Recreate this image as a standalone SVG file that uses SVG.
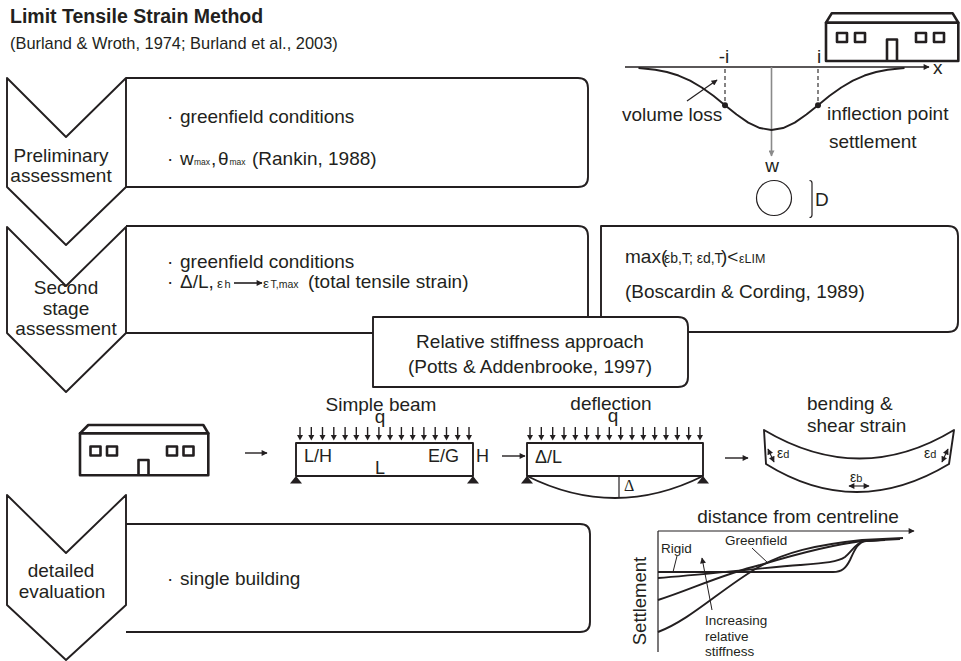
<svg xmlns="http://www.w3.org/2000/svg" width="961" height="661" viewBox="0 0 961 661">
  <defs>
    <style>
      .t { font-family: "Liberation Sans", Arial, sans-serif; font-size: 19px; fill: #231f20; }
      .b { font-weight: bold; }
      .sm { font-size: 13.5px; }
      .mid { text-anchor: middle; }
      .ln { fill: none; stroke: #231f20; stroke-width: 1.9; stroke-linejoin: round; }
      .thin { fill: none; stroke: #231f20; stroke-width: 1.2; }
      .bld { fill: none; stroke: #231f20; stroke-width: 2.6; stroke-linejoin: round; }
      .fill { fill: #231f20; stroke: none; }
      .box { fill: #ffffff; stroke: #231f20; stroke-width: 1.9; stroke-linejoin: round; }
    </style>
    <marker id="ah" viewBox="0 0 10 10" refX="9" refY="5" markerWidth="8" markerHeight="6" markerUnits="userSpaceOnUse" orient="auto-start-reverse">
      <path d="M0,0 L10,5 L0,10 z" fill="#231f20"/>
    </marker>
    <marker id="ahg" viewBox="0 0 10 10" refX="9" refY="5" markerWidth="8" markerHeight="6" markerUnits="userSpaceOnUse" orient="auto">
      <path d="M0,0 L10,5 L0,10 z" fill="#8a8a8a"/>
    </marker>
    <!-- one distributed-load arrow, drawn at its own origin -->
    <g id="load">
      <line x1="0" y1="0" x2="0" y2="9" stroke="#231f20" stroke-width="1.4"/>
      <path d="M-3,8 L3,8 L0,13.5 z" fill="#231f20"/>
    </g>
    <!-- pin support -->
    <path id="pin" d="M0,0 L-6,7.5 L6,7.5 z" fill="#231f20"/>
  </defs>

  <rect x="0" y="0" width="961" height="661" fill="#ffffff"/>

  <g id="title">
    <text class="t b" x="10" y="23" style="font-size:19.5px">Limit Tensile Strain Method</text>
    <text class="t" x="10" y="49" style="font-size:16.4px">(Burland &amp; Wroth, 1974; Burland et al., 2003)</text>
  </g>

  <!-- stage 1 -->
  <g id="stage-preliminary">
    <path class="ln" d="M7,78 L66,137 L126,78 L126,187 L66,245 L7,187 Z"/>
    <path class="ln" d="M126,78 H578 Q588,78 588,88 V177 Q588,187 578,187 H126"/>
    <text class="t mid" x="61" y="162">Preliminary</text>
    <text class="t mid" x="61" y="182">assessment</text>
    <text class="t" x="167" y="123">·</text>
    <text class="t" x="180" y="123">greenfield conditions</text>
    <text class="t" x="167" y="165">·</text>
    <text class="t" y="165"><tspan x="180">w</tspan><tspan x="194" font-size="8.5">max</tspan><tspan x="211">,</tspan><tspan x="218">θ</tspan><tspan x="229.5" font-size="8.5">max</tspan><tspan x="252">(Rankin, 1988)</tspan></text>
  </g>

  <!-- stage 2 -->
  <g id="stage-second">
    <path class="ln" d="M7,227 L66,286 L126,227 L126,333 L66,392 L7,333 Z"/>
    <path class="ln" d="M126,226 H578 Q588,226 588,236 V323 Q588,333 578,333 H126"/>
    <text class="t mid" x="66" y="294">Second</text>
    <text class="t mid" x="66" y="315">stage</text>
    <text class="t mid" x="66" y="335">assessment</text>
    <text class="t" x="167" y="268">·</text>
    <text class="t" x="180" y="268">greenfield conditions</text>
    <text class="t" x="167" y="288">·</text>
    <text class="t" y="288"><tspan x="180">Δ/L,</tspan><tspan x="217" font-size="13.5">ε</tspan><tspan x="224.5" font-size="11">h</tspan><tspan x="263" font-size="13.5">ε</tspan><tspan x="270.5" font-size="10.5">T,max</tspan><tspan x="308">(total tensile strain)</tspan></text>
    <line x1="234" y1="283" x2="262" y2="283" stroke="#231f20" stroke-width="1.6" marker-end="url(#ah)"/>
  </g>

  <!-- limiting strain criterion -->
  <g id="criterion">
    <path class="ln" d="M601,226 H948 Q958,226 958,236 V322 Q958,332 948,332 H601 Z"/>
    <text class="t" y="263"><tspan x="625">max(</tspan><tspan x="664" font-size="14">εb,T; εd,T</tspan><tspan x="721">)&lt;</tspan><tspan x="739" font-size="12.5">εLIM</tspan></text>
    <text class="t" x="625" y="298">(Boscardin &amp; Cording, 1989)</text>
  </g>

  <g id="relative-stiffness">
    <path class="box" d="M373,317 H678 Q688,317 688,327 V377 Q688,387 678,387 H373 Z"/>
    <text class="t mid" x="530" y="348">Relative stiffness approach</text>
    <text class="t mid" x="530" y="373">(Potts &amp; Addenbrooke, 1997)</text>
  </g>

  <!-- stage 3 -->
  <g id="stage-detailed">
    <path class="ln" d="M7,495 L66,553 L126,495 L126,605 L66,660 L7,605 Z"/>
    <path class="ln" d="M126,524 H580 Q590,524 590,534 V622 Q590,632 580,632 H126"/>
    <text class="t mid" x="61" y="577">detailed</text>
    <text class="t mid" x="62" y="598">evaluation</text>
    <text class="t" x="167" y="585">·</text>
    <text class="t" x="180" y="585">single building</text>
  </g>

  <!-- greenfield settlement trough -->
  <g id="trough">
    <line x1="625" y1="67" x2="929" y2="67" stroke="#231f20" stroke-width="1.3" marker-end="url(#ah)"/>
    <text class="t" x="933" y="74">x</text>
    <line x1="771.5" y1="67" x2="771.5" y2="156" stroke="#8a8a8a" stroke-width="1.6" marker-end="url(#ahg)"/>
    <polyline class="ln" stroke-width="2" points="638.5,68.05 643.6,68.44 655.25,69.77 666.9,72.01 678.5,75.52 690.1,80.63 701.75,87.46 713.4,95.84 725,105.2 736.6,114.55 748.25,122.6 759.9,128.05 771.5,130 783.1,128.05 794.75,122.6 806.4,114.55 818,105.2 829.6,95.84 841.25,87.46 852.9,80.63 864.5,75.52 876.1,72.01 887.75,69.77 899.4,68.44 904.5,68.05"/>
    <line x1="725" y1="69" x2="725" y2="103" stroke="#231f20" stroke-width="1.1" stroke-dasharray="4,3"/>
    <line x1="818" y1="69" x2="818" y2="103" stroke="#231f20" stroke-width="1.1" stroke-dasharray="4,3"/>
    <circle class="fill" cx="725" cy="105.2" r="3"/>
    <circle class="fill" cx="818" cy="105.2" r="3"/>
    <text class="t mid" x="724" y="63">-i</text>
    <text class="t mid" x="819" y="63">i</text>
    <text class="t mid" x="772" y="172">w</text>
    <text class="t" x="622" y="121">volume loss</text>
    <line x1="687" y1="101" x2="717" y2="80" stroke="#231f20" stroke-width="1.2" marker-end="url(#ah)"/>
    <text class="t" x="827" y="120">inflection point</text>
    <text class="t" x="829" y="148">settlement</text>
  </g>

  <g id="building-top">
    <path class="bld" d="M826,22.7 L831.7,13.3 L952.7,13.3 L958.3,22.7 Z"/>
    <rect class="bld" x="826" y="22.7" width="132.3" height="38.3"/>
    <rect class="bld" x="837" y="33" width="10" height="9"/>
    <rect class="bld" x="855" y="33" width="10" height="9"/>
    <rect class="bld" x="916" y="33" width="10" height="9"/>
    <rect class="bld" x="934" y="33" width="10" height="9"/>
    <path class="bld" d="M887,61 V39.5 H897 V61"/>
  </g>

  <g id="tunnel">
    <circle class="thin" cx="774" cy="198" r="17.5"/>
    <path class="thin" d="M809.5,180.5 Q812,180.5 812,183 V215 Q812,217.5 809.5,217.5"/>
    <text class="t" x="815" y="206">D</text>
  </g>

  <g id="house">
    <path class="bld" d="M80,433.3 L88.3,425 L203.3,425 L208.3,433.3 Z"/>
    <rect class="bld" x="80" y="433.3" width="128.3" height="42"/>
    <rect class="bld" x="90.5" y="446.5" width="10" height="9"/>
    <rect class="bld" x="107" y="446.5" width="10" height="9"/>
    <rect class="bld" x="167" y="446.5" width="10" height="9"/>
    <rect class="bld" x="183.5" y="446.5" width="10" height="9"/>
    <path class="bld" d="M138.5,475.3 V460 H148.5 V475.3"/>
  </g>

  <g id="simple-beam">
    <text class="t mid" x="381" y="411">Simple beam</text>
    <text class="t mid" x="380" y="423">q</text>
    <use href="#load" x="300" y="427"/><use href="#load" x="311.3" y="427"/><use href="#load" x="322.5" y="427"/><use href="#load" x="333.8" y="427"/>
    <use href="#load" x="345.1" y="427"/><use href="#load" x="356.3" y="427"/><use href="#load" x="367.6" y="427"/><use href="#load" x="378.9" y="427"/>
    <use href="#load" x="390.1" y="427"/><use href="#load" x="401.4" y="427"/><use href="#load" x="412.7" y="427"/><use href="#load" x="423.9" y="427"/>
    <use href="#load" x="435.2" y="427"/><use href="#load" x="446.5" y="427"/><use href="#load" x="457.7" y="427"/><use href="#load" x="469" y="427"/>
    <rect class="ln" x="296" y="443" width="177" height="33"/>
    <use href="#pin" x="296" y="476"/>
    <use href="#pin" x="473" y="476"/>
    <text class="t" x="304" y="462" style="font-size:18px">L/H</text>
    <text class="t" x="375" y="474" style="font-size:18px">L</text>
    <text class="t" x="428" y="462" style="font-size:18px">E/G</text>
    <text class="t" x="476" y="462" style="font-size:18px">H</text>
  </g>

  <g id="deflected-beam">
    <text class="t mid" x="611" y="410">deflection</text>
    <text class="t mid" x="613" y="422">q</text>
    <use href="#load" x="530" y="427"/><use href="#load" x="541.3" y="427"/><use href="#load" x="552.7" y="427"/><use href="#load" x="564" y="427"/>
    <use href="#load" x="575.3" y="427"/><use href="#load" x="586.7" y="427"/><use href="#load" x="598" y="427"/><use href="#load" x="609.3" y="427"/>
    <use href="#load" x="620.7" y="427"/><use href="#load" x="632" y="427"/><use href="#load" x="643.3" y="427"/><use href="#load" x="654.7" y="427"/>
    <use href="#load" x="666" y="427"/><use href="#load" x="677.3" y="427"/><use href="#load" x="688.7" y="427"/><use href="#load" x="700" y="427"/>
    <rect class="ln" x="527" y="443" width="176" height="33"/>
    <path class="ln" d="M527,476 Q615,520 703,476"/>
    <line x1="619" y1="476" x2="619" y2="498" stroke="#231f20" stroke-width="1.2"/>
    <use href="#pin" x="527" y="476"/>
    <use href="#pin" x="703" y="476"/>
    <text class="t" x="535" y="463" style="font-size:18px">Δ/L</text>
    <text x="624" y="491" font-family="'Liberation Serif', 'Times New Roman', serif" font-size="16" fill="#231f20">Δ</text>
  </g>

  <g id="bent-beam">
    <text class="t" x="807" y="410">bending &amp;</text>
    <text class="t" x="807" y="432">shear strain</text>
    <path class="ln" d="M764,430 Q860,487 954,430 L949,464 Q856,520 766,464 Z"/>
    <line x1="768" y1="449" x2="774" y2="462" stroke="#231f20" stroke-width="1.1" marker-start="url(#ah)" marker-end="url(#ah)"/>
    <text class="t" x="777" y="458" style="font-size:14px">ε<tspan font-size="11">d</tspan></text>
    <line x1="948" y1="449" x2="942" y2="462" stroke="#231f20" stroke-width="1.1" marker-start="url(#ah)" marker-end="url(#ah)"/>
    <text class="t" x="924" y="458" style="font-size:14px">ε<tspan font-size="11">d</tspan></text>
    <text class="t" x="850" y="482" style="font-size:14px">ε<tspan font-size="11">b</tspan></text>
    <line x1="849" y1="486" x2="869" y2="486" stroke="#231f20" stroke-width="1.1" marker-start="url(#ah)" marker-end="url(#ah)"/>
  </g>

  <g id="settlement-chart">
    <text class="t mid" x="798" y="523">distance from centreline</text>
    <line x1="658" y1="531" x2="914" y2="531" stroke="#231f20" stroke-width="1.2" marker-end="url(#ah)"/>
    <line x1="658" y1="531" x2="658" y2="652" stroke="#231f20" stroke-width="1.2"/>
    <text class="t mid" transform="translate(646,601) rotate(-90)" style="font-size:18.5px">Settlement</text>
    <path class="ln" d="M658,572 L833,572 C842,572 846,568 850,560 C855,549 858,542 866,541 L885,540"/>
    <path class="ln" d="M658,578 C700,575 760,568 800,565 C825,563 838,562 845,557 C852,551 856,543 864,541 L880,540"/>
    <path class="ln" d="M658,600 C690,590 720,575 760,565 C800,553 830,545 862,541 L900,539"/>
    <path class="ln" d="M658,632 C690,620 720,590 757,568 C785,552 815,545 862,540 L903,538"/>
    <text class="t sm" x="661" y="553">Rigid</text>
    <line x1="677" y1="556" x2="673" y2="572" stroke="#231f20" stroke-width="1"/>
    <text class="t sm" x="725" y="545">Greenfield</text>
    <line x1="752" y1="548" x2="768" y2="563" stroke="#231f20" stroke-width="1"/>
    <line x1="712" y1="610" x2="702" y2="558" stroke="#231f20" stroke-width="1" marker-end="url(#ah)"/>
    <text class="t sm" x="705" y="625">Increasing</text>
    <text class="t sm" x="705" y="641">relative</text>
    <text class="t sm" x="705" y="656">stiffness</text>
  </g>

  <g id="connectors">
    <line x1="245" y1="453" x2="267" y2="453" stroke="#231f20" stroke-width="1.4" marker-end="url(#ah)"/>
    <line x1="502" y1="456" x2="525" y2="456" stroke="#231f20" stroke-width="1.4" marker-end="url(#ah)"/>
    <line x1="725" y1="458" x2="748" y2="458" stroke="#231f20" stroke-width="1.4" marker-end="url(#ah)"/>
  </g>
</svg>
